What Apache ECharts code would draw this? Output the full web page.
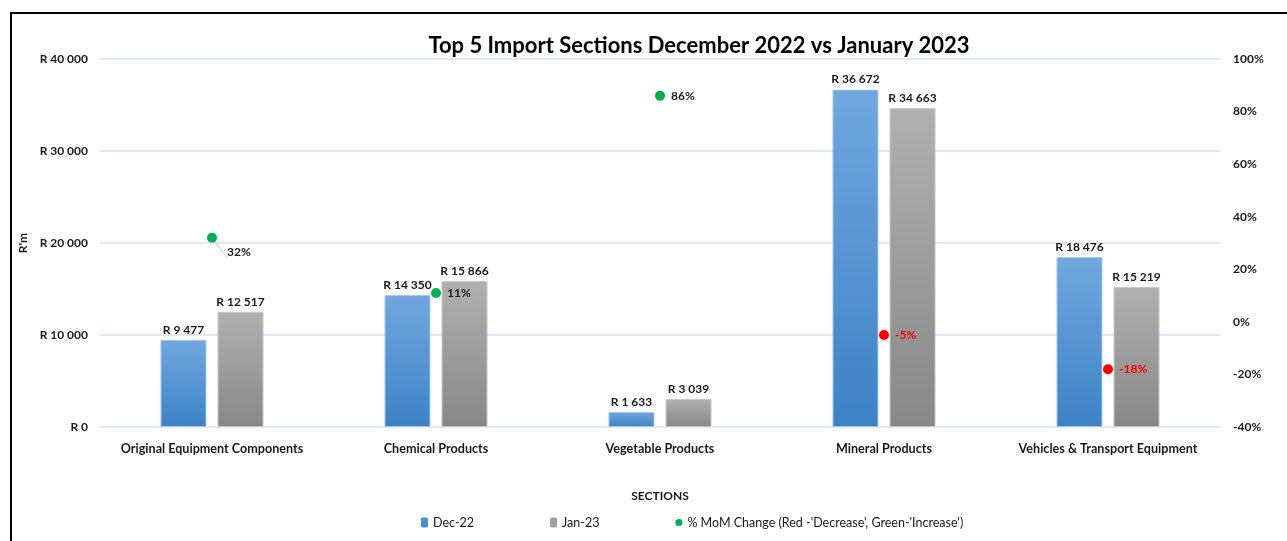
<!DOCTYPE html>
<html>
<head>
<meta charset="utf-8">
<script src="https://cdn.jsdelivr.net/npm/echarts@6/dist/echarts.min.js"></script>
<style>
  html, body { margin: 0; padding: 0; background: #fff; overflow: hidden; width: 1287px; height: 541px; }
  #frame { position: absolute; left: 10px; top: 12px; width: 1400px; height: 700px;
           border-left: 2px solid #000; border-top: 2px solid #000; }
  #main { position: absolute; left: 0; top: 0; width: 1287px; height: 541px; }
</style>
</head>
<body>
<div id="frame"></div>
<div id="main"></div>
<script>
// categories and values (R million)
const sections = ['Original Equipment Components', 'Chemical Products', 'Vegetable Products', 'Mineral Products', 'Vehicles & Transport Equipment'];
const dec22 = [9477, 14350, 1633, 36672, 18476];
const jan23 = [12517, 15866, 3039, 34663, 15219];
const momChange = [32, 11, 86, -5, -18];

const FONT = 'Lato';
const GREEN = '#00B050';
const RED = '#FF0000';
const TEXT = '#1a1a1a';

// "R 12 517" style
const rand = (v) => 'R ' + String(v).replace(/\B(?=(\d{3})+(?!\d))/g, ' ');

const grad = (top, bottom) => new echarts.graphic.LinearGradient(0, 0, 0, 1, [
  { offset: 0, color: top },
  { offset: 1, color: bottom }
]);

const barLabel = {
  show: true,
  position: 'top',
  distance: 4,
  fontFamily: FONT,
  fontWeight: 'bold',
  fontSize: 12,
  color: TEXT,
  formatter: (p) => rand(p.value)
};

// label for a MoM point; the first one sits lower-right with a leader line
const momLabel = (v, i) => ({
  show: true,
  position: 'right',
  distance: 6,
  offset: i === 0 ? [4, 14] : [0, 0],
  fontFamily: FONT,
  fontWeight: 'bold',
  fontSize: 12,
  color: v < 0 ? RED : TEXT,
  formatter: (p) => p.value + '%'
});

var myChart = echarts.init(document.getElementById('main'));
myChart.setOption({
  animation: false,
  textStyle: { fontFamily: FONT },
  title: {
    text: 'Top 5 Import Sections December 2022 vs January 2023',
    left: 694,
    top: 30,
    textAlign: 'center',
    textStyle: { fontFamily: FONT, fontSize: 22, fontWeight: 'bold', color: '#000' }
  },
  legend: {
    bottom: 7,
    left: 416,
    itemGap: 76,
    itemWidth: 7,
    itemHeight: 10,
    textStyle: { fontFamily: FONT, fontSize: 12.5, color: TEXT },
    data: [
      { name: 'Dec-22', itemStyle: { color: '#4A8FD2', borderWidth: 0 } },
      { name: 'Jan-23', itemStyle: { color: '#A0A0A0', borderWidth: 0 } },
      { name: "% MoM Change (Red -'Decrease', Green-'Increase')", icon: 'circle', itemStyle: { color: GREEN } }
    ]
  },
  grid: { left: 100, right: 67, top: 59, bottom: 114 },
  xAxis: {
    type: 'category',
    data: sections,
    name: 'SECTIONS',
    nameLocation: 'middle',
    nameGap: 63,
    nameTextStyle: { fontFamily: FONT, fontSize: 12, fontWeight: 'bold', color: TEXT },
    axisLine: { show: false },
    axisTick: { show: false },
    axisLabel: { interval: 0, margin: 15, fontFamily: FONT, fontSize: 12.6, fontWeight: 'bold', color: TEXT }
  },
  yAxis: [
    {
      type: 'value',
      min: 0,
      max: 40000,
      interval: 10000,
      name: "R'm",
      nameLocation: 'middle',
      nameGap: 68,
      nameRotate: 90,
      nameTextStyle: { fontFamily: FONT, fontSize: 12, fontWeight: 'bold', color: TEXT },
      axisLabel: { margin: 12, fontFamily: FONT, fontSize: 12, fontWeight: 'bold', color: TEXT, formatter: rand },
      splitLine: { lineStyle: { color: '#DCE3EB', width: 1.5 } }
    },
    {
      type: 'value',
      min: -40,
      max: 100,
      interval: 20,
      position: 'right',
      axisLabel: { margin: 13, fontFamily: FONT, fontSize: 12, fontWeight: 'bold', color: TEXT, formatter: '{value}%' },
      splitLine: { show: false }
    }
  ],
  series: [
    {
      name: 'Dec-22',
      type: 'bar',
      data: dec22,
      barWidth: 46,
      barGap: '24%',
      itemStyle: { color: grad('#70A8DE', '#3C82C6'), borderColor: '#A9C8EA', borderWidth: 1 },
      label: barLabel
    },
    {
      name: 'Jan-23',
      type: 'bar',
      data: jan23,
      barWidth: 46,
      itemStyle: { color: grad('#B0B0B0', '#888888'), borderColor: '#C8C8C8', borderWidth: 1 },
      label: barLabel
    },
    {
      name: "% MoM Change (Red -'Decrease', Green-'Increase')",
      type: 'scatter',
      yAxisIndex: 1,
      symbolSize: 10,
      z: 5,
      data: momChange.map((v, i) => ({
        value: v,
        itemStyle: { color: v < 0 ? RED : GREEN, opacity: 1 },
        label: momLabel(v, i),
        labelLine: { show: i === 0, lineStyle: { color: '#A9C8EA' } }
      })),
      itemStyle: { color: GREEN, opacity: 1 }
    }
  ]
});
</script>
</body>
</html>
